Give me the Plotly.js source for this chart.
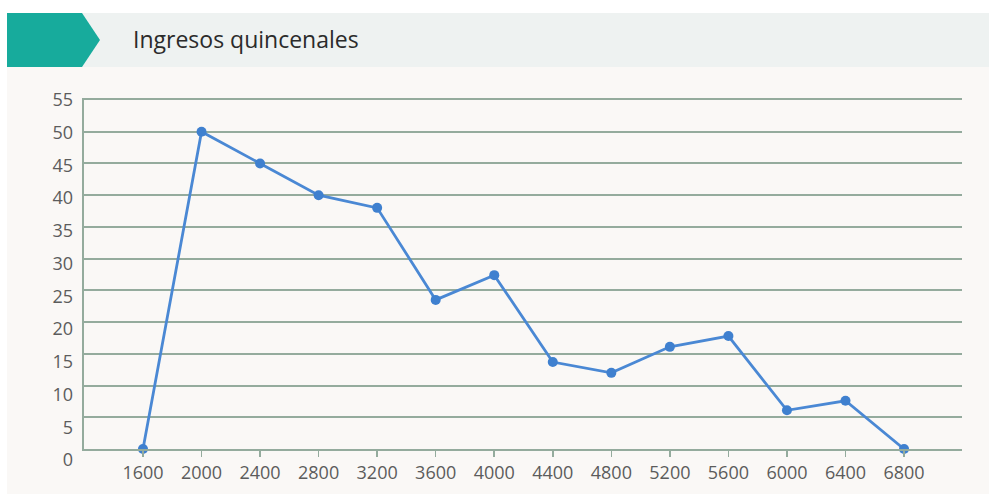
<!DOCTYPE html>
<html><head><meta charset="utf-8">
<script src="https://cdn.plot.ly/plotly-3.0.1.min.js"></script>
<style>html,body{margin:0;padding:0;background:#fff;}#chart{width:989px;height:494px;}</style>
</head><body><div id="chart"></div>
<script>
// Data
const ingresos = [1600, 2000, 2400, 2800, 3200, 3600, 4000, 4400, 4800, 5200, 5600, 6000, 6400, 6800];
const frecuencia = [0, 50, 45, 40, 38, 23.5, 27.4, 13.7, 12, 16.1, 17.8, 6.1, 7.6, 0];
const yTicks = [0, 5, 10, 15, 20, 25, 30, 35, 40, 45, 50, 55];
const titleText = "Ingresos quincenales";

// Pixel geometry helpers
const W = 989, H = 494;
const L = 84, R = 962, T = 90, B = 470;
const px = v => (v - L) / (R - L);
const py = v => (B - v) / (B - T);

const grid = '#94ab9d';
const font = '"Open Sans", Lato, sans-serif';

const traces = [
  {
    x: ingresos, y: frecuencia, type: 'scatter', mode: 'lines+markers',
    line: {color: '#4a88d4', width: 2.8},
    marker: {color: '#3f80cf', size: 10},
    cliponaxis: false,
    hoverinfo: 'x+y', showlegend: false, xaxis: 'x', yaxis: 'y'
  },
  {
    x: [null], y: [null], type: 'scatter', mode: 'markers',
    showlegend: false, hoverinfo: 'skip', xaxis: 'x', yaxis: 'y2'
  }
];

// label axis: 0 label sits at ~460px, 55 label at ~100px
const lab0 = 460, lab55 = 100;
const k = (lab0 - lab55) / 55;

const layout = {
  width: W, height: H,
  margin: {l: L, r: W - R, t: T, b: H - B, pad: 0},
  paper_bgcolor: '#ffffff',
  plot_bgcolor: 'rgba(0,0,0,0)',
  showlegend: false,
  title: {
    text: titleText, xref: 'container', yref: 'container',
    x: 133 / W, xanchor: 'left', y: 1 - 40 / H, yanchor: 'middle',
    font: {family: font, size: 23, color: '#2b2b2b', weight: 500}
  },
  xaxis: {
    range: [1197, 7196], tickmode: 'array', tickvals: ingresos,
    showgrid: false, zeroline: false,
    showline: true, mirror: true, linecolor: grid, linewidth: 2,
    ticks: 'outside', ticklen: 6, tickwidth: 1.5, tickcolor: grid,
    tickfont: {family: font, size: 18, color: '#5c5c5c'},
    anchor: 'y'
  },
  yaxis: {
    domain: [py(449), py(100)], range: [0, 55],
    tickmode: 'array', tickvals: yTicks,
    showticklabels: false, ticks: '',
    showgrid: true, gridcolor: grid, gridwidth: 2,
    zeroline: false, showline: true, linecolor: grid, linewidth: 2.5,
    anchor: 'x'
  },
  yaxis2: {
    domain: [0, 1], range: [-(B - lab0) / k, 55 + (lab55 - T) / k],
    tickmode: 'array', tickvals: yTicks,
    showgrid: false, zeroline: false, showline: false, ticks: '',
    ticklabelstandoff: 10,
    tickfont: {family: font, size: 18, color: '#5c5c5c'},
    anchor: 'x'
  },
  shapes: [
    {type: 'rect', xref: 'paper', yref: 'paper', layer: 'below',
     x0: px(7), x1: px(989), y0: py(67), y1: py(494), fillcolor: '#faf8f6', line: {width: 0}},
    {type: 'rect', xref: 'paper', yref: 'paper', layer: 'below',
     x0: px(7), x1: px(989), y0: py(13), y1: py(67), fillcolor: '#eef2f1', line: {width: 0}},
    {type: 'path', xref: 'paper', yref: 'paper', layer: 'below',
     path: `M${px(7)},${py(13)} L${px(82)},${py(13)} L${px(100)},${py(40)} L${px(82)},${py(67)} L${px(7)},${py(67)} Z`,
     fillcolor: '#17ab9c', line: {width: 0}}
  ]
};

Plotly.newPlot('chart', traces, layout, {displayModeBar: false, staticPlot: true});
</script>
</body></html>
